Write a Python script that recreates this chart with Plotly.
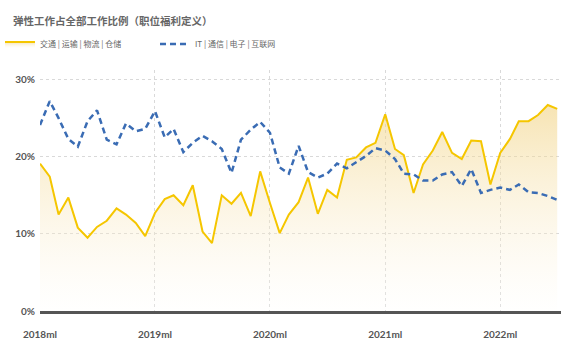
import plotly.graph_objects as go
import pandas as pd

title_text = "弹性工作占全部工作比例（职位福利定义）"
series_names = ["交通 | 运输 | 物流 | 仓储", "IT | 通信 | 电子 | 互联网"]

months = pd.date_range("2018-01-01", periods=55, freq="MS")

transport = [19.1, 17.4, 12.5, 14.7, 10.8, 9.5, 10.9, 11.7, 13.3, 12.5, 11.4, 9.7,
             12.7, 14.5, 15.0, 13.7, 16.3, 10.3, 8.8, 15.0, 13.9, 15.3, 12.3, 18.1,
             14.0, 10.1, 12.5, 14.1, 17.3, 12.6, 15.7, 14.7, 19.6, 19.9, 21.2, 21.8,
             25.5, 21.0, 20.2, 15.3, 19.0, 20.8, 23.2, 20.5, 19.7, 22.1, 22.0, 16.4,
             20.5, 22.3, 24.6, 24.6, 25.4, 26.7, 26.2]

it_sector = [24.1, 27.2, 25.0, 22.3, 21.3, 24.6, 26.0, 22.2, 21.6, 24.3, 23.3, 23.6,
             25.9, 22.5, 23.6, 20.6, 21.8, 22.7, 22.0, 21.0, 17.9, 22.2, 23.5, 24.5,
             23.1, 18.6, 17.8, 21.4, 18.0, 17.3, 17.8, 19.1, 18.5, 19.3, 20.1, 21.1,
             20.8, 19.7, 17.8, 17.7, 16.9, 16.9, 17.7, 18.0, 16.2, 18.4, 15.3, 15.7,
             16.0, 15.7, 16.4, 15.4, 15.3, 14.9, 14.4]

y_ticks = [0, 10, 20, 30]
y_ticklabels = ["0%", "10%", "20%", "30%"]

fig = go.Figure()
fig.add_trace(go.Scatter(
    x=months, y=transport, name=series_names[0], mode="lines",
    line=dict(color="#f5c600", width=2),
    fill="tozeroy",
    fillgradient=dict(type="vertical", start=0, stop=27,
                      colorscale=[[0, "rgba(255,255,255,0.2)"],
                                  [1, "rgba(240,205,115,0.55)"]]),
))
fig.add_trace(go.Scatter(
    x=months, y=it_sector, name=series_names[1], mode="lines",
    line=dict(color="#3a6cb4", width=2.5, dash="6px,4px"),
))

fig.update_layout(
    width=572, height=357,
    margin=dict(l=40, r=11, t=65, b=46),
    paper_bgcolor="white", plot_bgcolor="white",
    font=dict(family="Lato, Noto Sans CJK SC", color="#555"),
    title=dict(text=title_text, x=13/572, xanchor="left", xref="container",
               y=1 - 21.5/357, yanchor="middle", yref="container",
               font=dict(family="Noto Sans CJK SC", size=10.5, color="#666", weight="bold")),
    legend=dict(orientation="h", xref="container", yref="container",
                x=0.0, xanchor="left", y=1 - 44/357, yanchor="middle",
                font=dict(family="Noto Sans CJK SC", size=8, color="#666"),
                entrywidth=110, bgcolor="rgba(0,0,0,0)"),
    showlegend=True,
)
fig.update_xaxes(
    range=["2018-01-01", "2022-07-13"],
    tick0="2018-01-01", dtick="M12", tickformat="%Yml",
    showgrid=True, gridcolor="#d9d9d9", griddash="dot", gridwidth=1,
    showline=True, linecolor="#555", linewidth=3,
    ticks="", ticklabelstandoff=12,
    tickfont=dict(family="Lato", size=10, color="#555", weight="bold"),
    zeroline=False,
)
fig.update_yaxes(
    range=[0, 31.3],
    tickvals=y_ticks, ticktext=y_ticklabels,
    showgrid=True, gridcolor="#d9d9d9", griddash="dot", gridwidth=1,
    zeroline=False, showline=False, ticks="",
    ticklabelstandoff=4,
    tickfont=dict(family="Lato", size=10, color="#555", weight="bold"),
)

fig.write_html("out.html", config={"displayModeBar": False},
               post_script="document.body.style.margin='0';")
